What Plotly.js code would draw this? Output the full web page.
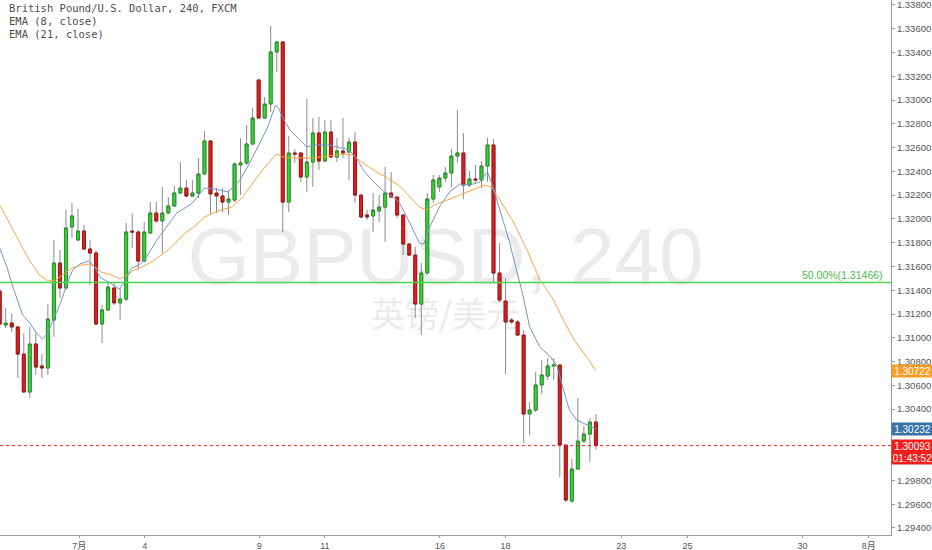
<!DOCTYPE html>
<html><head><meta charset="utf-8">
<script src="https://cdn.plot.ly/plotly-3.0.1.min.js"></script>
<style>html,body{margin:0;padding:0;background:#fff;}#chart{width:932px;height:550px;}</style>
</head><body><div id="chart"></div>
<script>
// GBPUSD 240 (4h bars), FXCM
const open = [1.31394,1.31107,1.31124,1.31091,1.30863,1.30544,1.30948,1.30763,1.30746,1.31150,
1.31629,1.31419,1.31932,1.31823,1.31898,1.31747,1.31713,1.31116,1.31234,1.31419,
1.31293,1.31326,1.31898,1.31890,1.31646,1.31882,1.32050,1.31983,1.32050,1.32109,
1.32218,1.32260,1.32193,1.32218,1.32378,1.32656,1.32218,1.32193,1.32142,1.32159,
1.32454,1.32471,1.32630,1.33169,1.32849,1.32967,1.33405,1.33489,1.32142,1.32555,
1.32555,1.32353,1.32479,1.32723,1.32487,1.32731,1.32521,1.32572,1.32563,1.32647,
1.32201,1.32033,1.32025,1.32067,1.32100,1.32218,1.32184,1.32033,1.31789,1.31696,
1.31284,1.31545,1.32168,1.32269,1.32344,1.32386,1.32529,1.32555,1.32285,1.32336,
1.32328,1.32445,1.32622,1.31545,1.31309,1.31150,1.31133,1.31023,1.30359,1.30392,
1.30603,1.30678,1.30763,1.30771,1.30098,1.29627,1.29896,1.30131,1.30190,1.30291];
const high = [1.31427,1.31250,1.31200,1.31099,1.31040,1.31091,1.31040,1.30863,1.31284,1.31823,
1.31739,1.32075,1.32134,1.32084,1.31949,1.31823,1.31739,1.31276,1.31461,1.31461,
1.31419,1.31966,1.32050,1.31907,1.31974,1.32142,1.32142,1.32269,1.32184,1.32277,
1.32479,1.32328,1.32328,1.32513,1.32740,1.32665,1.32260,1.32260,1.32243,1.32479,
1.32681,1.32790,1.32933,1.33178,1.33026,1.33623,1.33497,1.33497,1.32698,1.32588,
1.32563,1.33009,1.32849,1.32858,1.32832,1.32832,1.32681,1.32849,1.32681,1.32731,
1.32201,1.32075,1.32218,1.32201,1.32437,1.32395,1.32184,1.32033,1.31797,1.31764,
1.31629,1.32218,1.32370,1.32370,1.32437,1.32588,1.32917,1.32723,1.32403,1.32454,
1.32487,1.32681,1.32673,1.31797,1.31503,1.31166,1.31150,1.31065,1.30460,1.30712,
1.30813,1.30830,1.30830,1.30771,1.30098,1.29980,1.30493,1.30258,1.30325,1.30359];
const low = [1.31082,1.31082,1.31049,1.30662,1.30535,1.30493,1.30687,1.30662,1.30687,1.31007,
1.31335,1.31402,1.31840,1.31814,1.31739,1.31444,1.31107,1.30956,1.31225,1.31276,
1.31150,1.31309,1.31755,1.31570,1.31638,1.31873,1.31966,1.31713,1.32041,1.32100,
1.32210,1.32184,1.32184,1.32176,1.32370,1.32041,1.32050,1.32058,1.32033,1.32142,
1.32201,1.32454,1.32622,1.32841,1.32841,1.32900,1.33236,1.31890,1.32058,1.32471,
1.32311,1.32227,1.32269,1.32412,1.32479,1.32513,1.32479,1.32513,1.32328,1.32134,
1.32008,1.31991,1.31890,1.31974,1.31806,1.32184,1.32008,1.31696,1.31688,1.31166,
1.31023,1.31528,1.32134,1.32227,1.32311,1.32269,1.32471,1.32168,1.32269,1.32302,
1.32260,1.32311,1.31461,1.31301,1.30695,1.31116,1.31015,1.30115,1.30182,1.30375,
1.30527,1.30645,1.30645,1.29829,1.29618,1.29610,1.29887,1.30115,1.29955,1.30064];
const close = [1.31116,1.31124,1.31091,1.30863,1.30544,1.30948,1.30754,1.30746,1.31158,1.31629,
1.31419,1.31924,1.32025,1.31898,1.31747,1.31713,1.31116,1.31234,1.31427,1.31293,
1.31326,1.31890,1.31890,1.31646,1.31890,1.32050,1.31983,1.32050,1.32109,1.32218,
1.32260,1.32193,1.32218,1.32378,1.32656,1.32210,1.32193,1.32142,1.32168,1.32462,
1.32471,1.32630,1.32849,1.32849,1.32967,1.33405,1.33489,1.32142,1.32555,1.32546,
1.32353,1.32479,1.32723,1.32487,1.32731,1.32521,1.32572,1.32555,1.32647,1.32201,
1.32016,1.32016,1.32075,1.32100,1.32218,1.32184,1.32033,1.31789,1.31696,1.31284,
1.31545,1.32168,1.32328,1.32344,1.32386,1.32529,1.32555,1.32285,1.32336,1.32328,
1.32445,1.32622,1.31545,1.31318,1.31133,1.31133,1.31023,1.30359,1.30392,1.30603,
1.30687,1.30763,1.30771,1.30098,1.29635,1.29896,1.30131,1.30190,1.30291,1.30093];

// EMA readings (bar position, value)
const ema8Bar = [0,1.2,2.2,3.8,5,6.1,7.1,8,9.1,10.3,11.1,12.1,13.3,14.8,15.8,16.6,18.3,19.9,20.9,21.9,
23.2,24.4,26.1,27.7,29.4,31,32,33.2,34,35.7,37.9,39.9,41.5,43.2,44.5,45.8,46.3,47.2,48.2,49.5,
51,52.3,54.5,56.8,58.1,59.4,60.6,62.3,63.9,65.6,66.4,68.1,69.7,70.4,71.4,73,74.7,76.4,78,79.7,
81,81.9,83,84.7,85.8,86.8,88,89.7,91.3,92.5,93.5,94.6,95.8,97.5,99];
const ema8 = [1.31755,1.31596,1.31427,1.31192,1.31124,1.31040,1.30990,1.31040,1.31175,1.31318,1.31444,1.31570,1.31621,1.31646,1.31596,1.31511,1.31461,1.31410,1.31486,1.31587,
1.31612,1.31680,1.31823,1.31932,1.32050,1.32100,1.32134,1.32210,1.32260,1.32252,1.32227,1.32328,1.32471,1.32639,1.32773,1.32959,1.32933,1.32832,1.32748,1.32681,
1.32605,1.32622,1.32622,1.32597,1.32580,1.32496,1.32395,1.32302,1.32227,1.32176,1.32134,1.31966,1.31797,1.31789,1.31932,1.32100,1.32227,1.32294,1.32285,1.32311,
1.32395,1.32269,1.32075,1.31797,1.31570,1.31377,1.31091,1.30922,1.30847,1.30771,1.30586,1.30392,1.30308,1.30266,1.30232];
const ema21Bar = [0,1.7,3.3,5,6.6,8,9.3,10.6,12,13.6,14.9,15.8,16.9,18.6,19.9,21.1,22.3,23.6,24.9,26.6,
28.2,30.4,32.4,34,36.2,38.5,40.2,41.8,43.5,45.2,46,47,49,51.8,54.5,57.3,58.6,60.1,62.3,64.4,
66.4,68.1,69.7,70.9,72.2,73.9,75.5,77.2,78.9,80.5,81.7,83,85.2,87.5,89.7,91.8,93.5,95.5,97.5,99];
const ema21 = [1.32117,1.31957,1.31797,1.31646,1.31528,1.31478,1.31486,1.31537,1.31587,1.31612,1.31621,1.31596,1.31553,1.31528,1.31495,1.31528,1.31570,1.31596,1.31629,1.31688,
1.31747,1.31865,1.31940,1.32016,1.32067,1.32100,1.32176,1.32285,1.32403,1.32504,1.32546,1.32521,1.32513,1.32513,1.32529,1.32546,1.32538,1.32479,1.32403,1.32344,
1.32277,1.32184,1.32100,1.32075,1.32117,1.32151,1.32184,1.32218,1.32252,1.32285,1.32269,1.32159,1.31983,1.31747,1.31486,1.31335,1.31158,1.30973,1.30838,1.30722];

const fibLevel = 1.31466;
const fibText = '50.00%';
const countdown = '01:43:52';
const dayTickBar = [13.2, 24.1, 43.1, 54, 73.1, 84, 103.2, 114.2, 133.3, 144.3];
const dayTickText = ['7月','4','9','11','16','18','23','25','30','8月'];
// price ticks visible on the axis (1.30200 and 1.30000 sit under the price tags)
const priceTicks = [1.338,1.336,1.334,1.332,1.330,1.328,1.326,1.324,1.322,1.320,1.318,1.316,1.314,1.312,1.310,1.308,1.306,1.304,1.298,1.296,1.294];
const headerLines = ['British Pound/U.S. Dollar, 240, FXCM', 'EMA (8, close)', 'EMA (21, close)'];
const watermark = 'GBPUSD, 240';
const watermarkSub = '英镑/美元';

const bar = open.map((_, i) => i);
const bodyHi = open.map((o, i) => Math.max(o, close[i]));
const bodyLo = open.map((o, i) => Math.min(o, close[i]));

const UP = '#33d633', DN = '#e31c1c';
const traces = [
  {type:'candlestick', x:bar, open:open, high:high, low:low, close:close,
   increasing:{line:{color:'#8a8a8a', width:1}, fillcolor:UP},
   decreasing:{line:{color:'#8a8a8a', width:1}, fillcolor:DN},
   whiskerwidth:0, hoverinfo:'skip'},
  {type:'candlestick', x:bar, open:open, high:bodyHi, low:bodyLo, close:close,
   increasing:{line:{color:'#2a8f2a', width:1}, fillcolor:UP},
   decreasing:{line:{color:'#a31515', width:1}, fillcolor:DN},
   whiskerwidth:0, hoverinfo:'skip'},
  {type:'scatter', mode:'lines', x:ema21Bar, y:ema21, line:{color:'#f7a541', width:1}, hoverinfo:'skip'},
  {type:'scatter', mode:'lines', x:ema8Bar, y:ema8, line:{color:'#7196c2', width:1}, hoverinfo:'skip'}
];

const PW = 891, PH = 535;
const ann = headerLines.map((t, k) => ({
  xref:'paper', yref:'paper', x:7/PW, y:1-(8+13*k)/PH, xanchor:'left', yanchor:'middle',
  text:t, showarrow:false, font:{family:'DejaVu Sans Mono', size:10.5, color:'#4d4d4d'}
}));
ann.push({xref:'paper', yref:'y', x:884/PW, y:fibLevel, xanchor:'right', yanchor:'bottom',
  text:fibText + '(' + fibLevel.toFixed(5) + ')', showarrow:false, borderpad:0,
  font:{family:'Liberation Sans', size:10.5, color:'#4cb84c'}});
function priceTag(v, bg, txt, shift) {
  return {xref:'paper', yref:'y', x:1, y:v, xanchor:'left', yanchor:'middle', yshift:shift||0,
    text:txt, showarrow:false, bgcolor:bg, width:39, height:10, borderpad:1, align:'center',
    font:{family:'Liberation Sans', size:10, color:'#ffffff'}};
}
const lastClose = close[close.length-1];
ann.push(priceTag(ema21[ema21.length-1], '#f99d27', ema21[ema21.length-1].toFixed(5)));
ann.push(priceTag(ema8[ema8.length-1], '#3b73a9', ema8[ema8.length-1].toFixed(5)));
ann.push(priceTag(lastClose, '#f21d1d', lastClose.toFixed(5)));
ann.push(priceTag(lastClose, '#f21d1d', countdown, -12));

const shapes = [
  {type:'rect', xref:'paper', yref:'paper', x0:0, x1:1, y0:1-290/PH, y1:1-206/PH, layer:'below',
   line:{width:0, color:'rgba(0,0,0,0)'}, fillcolor:'rgba(0,0,0,0)',
   label:{text:watermark, textposition:'middle center', font:{family:'Liberation Sans', size:80, color:'#ebebeb'}}},
  {type:'rect', xref:'paper', yref:'paper', x0:0, x1:1, y0:1-340/PH, y1:1-294/PH, layer:'below',
   line:{width:0, color:'rgba(0,0,0,0)'}, fillcolor:'rgba(0,0,0,0)',
   label:{text:watermarkSub, textposition:'middle center', font:{family:'Noto Sans CJK SC', size:34, color:'#ebebeb'}}},
  {type:'line', xref:'paper', yref:'y', x0:0, x1:1, y0:fibLevel, y1:fibLevel, line:{color:'#4cd64c', width:1.5}},
  {type:'line', xref:'paper', yref:'y', x0:0, x1:1, y0:lastClose, y1:lastClose, line:{color:'#f02020', width:1, dash:'dot'}}
];

const layout = {
  width:932, height:550, margin:{l:0, r:41, t:0, b:15},
  paper_bgcolor:'#ffffff', plot_bgcolor:'#ffffff', showlegend:false, hovermode:false,
  xaxis:{range:[0.05,148], tickmode:'array', tickvals:dayTickBar, ticktext:dayTickText,
    ticks:'outside', ticklen:2, tickcolor:'#999', showline:true, linecolor:'#999', linewidth:1,
    showgrid:false, zeroline:false, rangeslider:{visible:false}, fixedrange:true, ticklabeloverflow:'allow',
    tickfont:{family:'Liberation Sans, Noto Sans CJK SC', size:9, color:'#555'}},
  yaxis:{side:'right', range:[1.29341,1.33842], tickmode:'array', tickvals:priceTicks, tickformat:'.5f',
    ticks:'outside', ticklen:3, tickcolor:'#999', showline:true, linecolor:'#999', linewidth:1,
    showgrid:false, zeroline:false, fixedrange:true, ticklabeloverflow:'allow',
    tickfont:{family:'Liberation Sans', size:9.5, color:'#555'}},
  shapes:shapes, annotations:ann
};
Plotly.newPlot('chart', traces, layout, {staticPlot:true, displayModeBar:false});
</script></body></html>
